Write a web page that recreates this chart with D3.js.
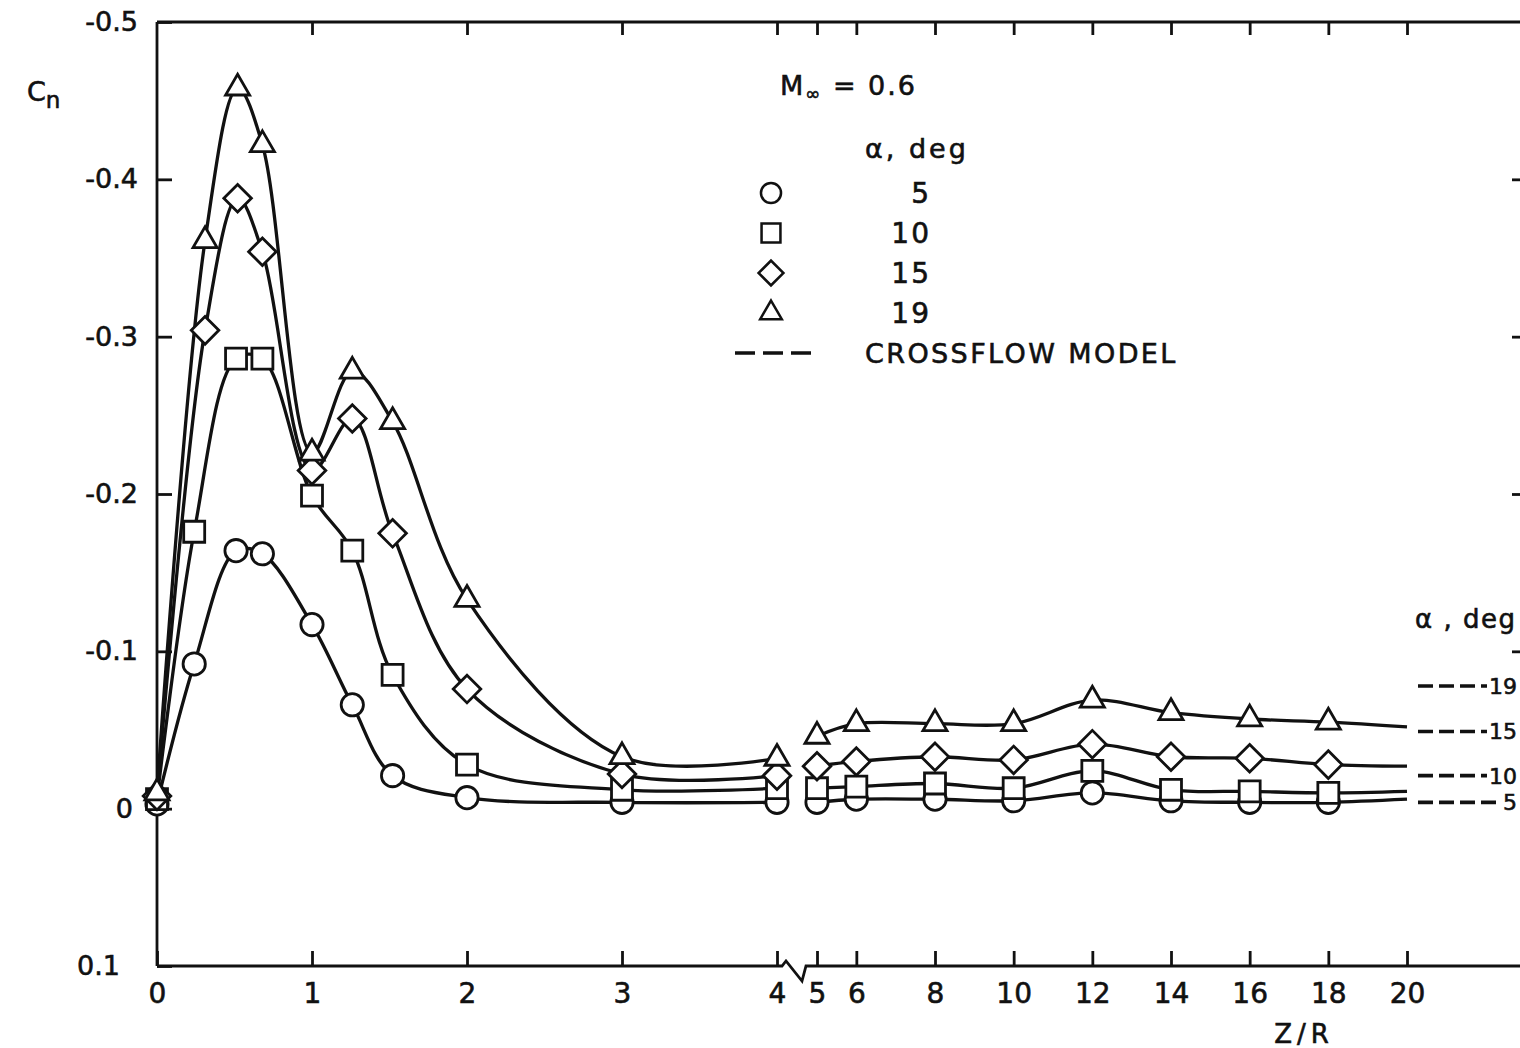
<!DOCTYPE html>
<html>
<head>
<meta charset="utf-8">
<script src="https://cdn.jsdelivr.net/npm/d3@7"></script>
<style>
  body { margin: 0; background: #fff; }
  svg { display: block; }
  text { font-family: "DejaVu Sans", "Liberation Sans", sans-serif; fill: #111; stroke: #111; stroke-width: 0.6px; }
</style>
</head>
<body>
<svg id="chart" width="1520" height="1048"></svg>
<script>
// Z/R stations on the near (0–4) and far (5–20) parts of the broken axis
const zNearCS = [0, 0.24, 0.51, 0.68, 1.0, 1.26, 1.52, 2.0, 3, 4];   // circles, squares
const zNearDT = [0, 0.31, 0.52, 0.68, 1.0, 1.26, 1.52, 2.0, 3, 4];   // diamonds, triangles
const zFar = [5, 6, 8, 10, 12, 14, 16, 18];
const zCurveEnd = 20;

// Sectional normal-force coefficient c_n, M∞ = 0.6
const alphaDeg = [5, 10, 15, 19];
const cnNear5  = [-0.003, -0.092, -0.164, -0.162, -0.117, -0.066, -0.021, -0.007, -0.004, -0.004];
const cnNear10 = [-0.006, -0.176, -0.286, -0.286, -0.199, -0.164, -0.085, -0.028, -0.012, -0.013];
const cnNear15 = [-0.008, -0.304, -0.388, -0.354, -0.215, -0.248, -0.175, -0.076, -0.022, -0.021];
const cnNear19 = [-0.010, -0.361, -0.458, -0.422, -0.226, -0.278, -0.246, -0.133, -0.033, -0.032];
const cnFar5   = [-0.004, -0.006, -0.006, -0.005, -0.010, -0.005, -0.004, -0.004];
const cnFar10  = [-0.013, -0.014, -0.016, -0.013, -0.024, -0.012, -0.011, -0.010];
const cnFar15  = [-0.027, -0.030, -0.033, -0.031, -0.041, -0.033, -0.032, -0.028];
const cnFar19  = [-0.046, -0.054, -0.054, -0.054, -0.069, -0.061, -0.057, -0.055];
// faired curves run on to Z/R = 20
const cnCurveEnd = [-0.006, -0.011, -0.027, -0.052];

// crossflow-model levels, listed at the right edge
const crossflowAlpha = [19, 15, 10, 5];
const crossflowCn = [-0.078, -0.049, -0.021, -0.004];

// axis ticks
const yTicks = [-0.5, -0.4, -0.3, -0.2, -0.1, 0, 0.1];
const xTicksNear = [0, 1, 2, 3, 4];
const xTicksFar = [5, 6, 8, 10, 12, 14, 16, 18, 20];

const svg = d3.select("#chart");
const INK = "#111";

const y = d3.scaleLinear().domain([-0.5, 0.1]).range([22, 966]);
const xNear = d3.scaleLinear().domain([0, 4]).range([157, 777]);
const xFar = d3.scaleLinear().domain([5, 20]).range([817, 1407]);
const xLeft = 157, xRight = 1520, yAxisTop = y(-0.5), yAxisBot = y(0.1);

// ---- frame ----
const frame = svg.append("g").attr("stroke", INK).attr("fill", "none").attr("stroke-width", 2.8);
frame.append("line").attr("x1", xLeft).attr("x2", xLeft).attr("y1", yAxisTop).attr("y2", yAxisBot);
frame.append("line").attr("x1", xLeft).attr("x2", xRight).attr("y1", yAxisTop).attr("y2", yAxisTop);
// bottom axis with break symbol between 4 and 5
frame.append("path").attr("d",
  `M${xLeft},${yAxisBot} L${xNear(4) + 5},${yAxisBot} L${xNear(4) + 9},${yAxisBot - 5}` +
  ` L${xNear(4) + 25},${yAxisBot + 15} L${xNear(4) + 29},${yAxisBot} L${xRight},${yAxisBot}`);

// ---- axes (ticks point inward) ----
function styleAxis(g) {
  g.select(".domain").remove();
  g.selectAll(".tick line").attr("stroke", INK).attr("stroke-width", 2.8);
  g.selectAll(".tick text").attr("fill", INK).style("font-family", '"DejaVu Sans", sans-serif');
}
const fmtY = v => (v === 0 ? "0" : v.toFixed(1));

svg.append("g").attr("transform", `translate(${xLeft},0)`)
  .call(d3.axisLeft(y).tickValues(yTicks).tickFormat(fmtY).tickSizeInner(-15).tickSizeOuter(0).tickPadding(19))
  .call(styleAxis)
  .call(g => g.selectAll(".tick text").style("font-size", "27px"))
  .call(g => g.selectAll(".tick").filter(d => d >= 0).select("text").attr("x", d => (d === 0 ? -24 : -37)));

svg.append("g").attr("transform", `translate(${xRight},0)`)
  .call(d3.axisRight(y).tickValues([-0.4, -0.3, -0.2, -0.1]).tickFormat("").tickSizeInner(-8).tickSizeOuter(0))
  .call(styleAxis);

[[xNear, xTicksNear], [xFar, xTicksFar]].forEach(([sc, tv]) => {
  svg.append("g").attr("transform", `translate(0,${yAxisBot})`)
    .call(d3.axisBottom(sc).tickValues(tv).tickFormat(d3.format("d")).tickSizeInner(-15).tickSizeOuter(0).tickPadding(17))
    .call(styleAxis)
    .call(g => g.selectAll(".tick text").style("font-size", "28px"));
  svg.append("g").attr("transform", `translate(0,${yAxisTop})`)
    .call(d3.axisTop(sc).tickValues(tv.filter(v => v > 0)).tickFormat("").tickSizeInner(-13).tickSizeOuter(0))
    .call(styleAxis);
});

// axis titles
const cn = svg.append("text").attr("x", 27).attr("y", 101).style("font-size", "27px");
cn.append("tspan").text("C");
cn.append("tspan").attr("dy", 7).style("font-size", "23px").text("n");
svg.append("text").attr("x", 1304).attr("y", 1043).attr("text-anchor", "middle")
  .style("font-size", "26px").style("letter-spacing", "5px").text("Z/R");

// ---- faired curves and data symbols ----
const series = [
  { a: alphaDeg[0], zn: zNearCS, near: cnNear5,  far: cnFar5,  sym: "circle" },
  { a: alphaDeg[1], zn: zNearCS, near: cnNear10, far: cnFar10, sym: "square" },
  { a: alphaDeg[2], zn: zNearDT, near: cnNear15, far: cnFar15, sym: "diamond" },
  { a: alphaDeg[3], zn: zNearDT, near: cnNear19, far: cnFar19, sym: "triangle" }
];

const symPath = {
  circle: d3.symbol(d3.symbolCircle, 390)(),
  square: d3.symbol(d3.symbolSquare, 440)(),
  diamond: d3.symbol(d3.symbolSquare, 380)(),
  triangle: d3.symbol(d3.symbolTriangle, 250)()
};
const symRot = { circle: 0, square: 0, diamond: 45, triangle: 0 };

const curves = svg.append("g").attr("fill", "none").attr("stroke", INK).attr("stroke-width", 3.3);
const marks = svg.append("g");

series.forEach((s, i) => {
  const nearPts = s.zn.map((z, k) => [xNear(z), y(s.near[k])]);
  const farPts = zFar.map((z, k) => [xFar(z), y(s.far[k])]);
  const lineGen = d3.line().curve(d3.curveCatmullRom.alpha(0.5));
  curves.append("path").attr("d", lineGen(nearPts));
  curves.append("path").attr("d", lineGen(farPts.concat([[xFar(zCurveEnd), y(cnCurveEnd[i])]])));

  marks.selectAll(null).data(nearPts.concat(farPts)).join("path")
    .attr("d", symPath[s.sym])
    .attr("transform", d => `translate(${d[0]},${d[1]}) rotate(${symRot[s.sym]})`)
    .attr("fill", "#fff").attr("stroke", INK).attr("stroke-width", 2.8);
});

// ---- legend ----
const lg = svg.append("g");
const m = lg.append("text").attr("x", 780).attr("y", 95).style("font-size", "27px").style("letter-spacing", "2px");
m.append("tspan").text("M");
m.append("tspan").attr("dy", 5).style("font-size", "18px").text("∞");
m.append("tspan").attr("dy", -5).text(" = 0.6");
lg.append("text").attr("x", 865).attr("y", 158).style("font-size", "27px").style("letter-spacing", "3px").text("α, deg");

series.forEach((s, i) => {
  const yy = 193 + i * 40;
  lg.append("path").attr("d", symPath[s.sym])
    .attr("transform", `translate(771,${yy}) rotate(${symRot[s.sym]}) scale(0.9)`)
    .attr("fill", "#fff").attr("stroke", INK).attr("stroke-width", 2.8);
  lg.append("text").attr("x", 931).attr("y", yy).attr("dy", "0.36em")
    .attr("text-anchor", "end").style("font-size", "28px").style("letter-spacing", "2px").text(s.a);
});
lg.append("line").attr("x1", 735).attr("x2", 812).attr("y1", 353).attr("y2", 353)
  .attr("stroke", INK).attr("stroke-width", 3.6).attr("stroke-dasharray", "20,8");
lg.append("text").attr("x", 865).attr("y", 353).attr("dy", "0.36em")
  .style("font-size", "27px").style("letter-spacing", "2.4px").text("CROSSFLOW  MODEL");

// ---- crossflow-model levels at right edge ----
svg.append("text").attr("x", 1415).attr("y", 619).attr("dy", "0.36em")
  .style("font-size", "26px").style("letter-spacing", "1.5px").text("α , deg");
crossflowAlpha.forEach((a, i) => {
  const yy = y(crossflowCn[i]);
  const t = svg.append("text").attr("x", 1517).attr("y", yy).attr("dy", "0.36em")
    .attr("text-anchor", "end").style("font-size", "22px").text(a);
  const w = t.node().getComputedTextLength();
  svg.append("line").attr("x1", 1418).attr("x2", 1517 - w - 2).attr("y1", yy).attr("y2", yy)
    .attr("stroke", INK).attr("stroke-width", 3.6).attr("stroke-dasharray", "15,6");
});
</script>
</body>
</html>
